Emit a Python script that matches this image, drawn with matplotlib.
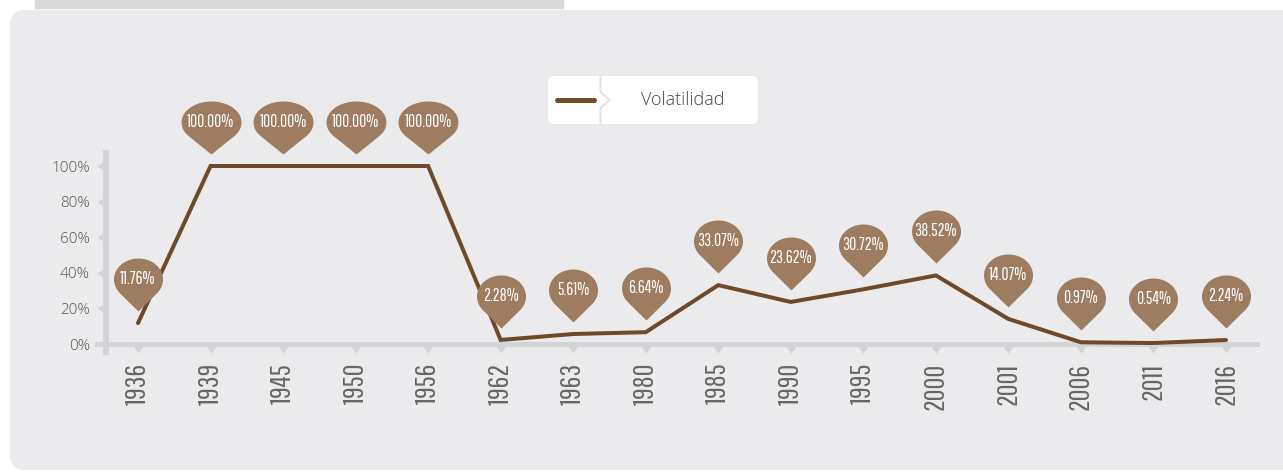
import numpy as np
import matplotlib
matplotlib.use("Agg")
import matplotlib.pyplot as plt
from matplotlib.lines import Line2D
from matplotlib.patches import FancyBboxPatch, Rectangle
from matplotlib.path import Path
from matplotlib.transforms import Affine2D

YEARS = ["1936", "1939", "1945", "1950", "1956", "1962", "1963", "1980",
         "1985", "1990", "1995", "2000", "2001", "2006", "2011", "2016"]
VOLATILITY = [11.76, 100.00, 100.00, 100.00, 100.00, 2.28, 5.61, 6.64,
              33.07, 23.62, 30.72, 38.52, 14.07, 0.97, 0.54, 2.24]
Y_TICKS = [0, 20, 40, 60, 80, 100]
SERIES_NAME = "Volatilidad"

W, H, DPI = 1283, 472, 100
PX = 72 / DPI  # points per pixel

PANEL = "#ebebed"
AXIS_GREY = "#d3d4d6"
LINE_BROWN = "#6f4a28"
PIN_BROWN = "#9d7c5f"
NARROW = ["Pathway Gothic One", "DejaVu Sans"]
OPEN = ["Open Sans", "DejaVu Sans"]


def offset_marker(verts: np.ndarray) -> tuple[Path, float]:
    """Closed marker path given in pixels around the anchor point, plus its markersize."""
    verts = np.vstack([verts, verts[:1]])
    codes = [Path.MOVETO] + [Path.LINETO] * (len(verts) - 2) + [Path.CLOSEPOLY]
    size = 2 * np.abs(verts).max() * PX
    return Path(verts, codes), size


def pin_marker(half_width: float, gap: float = 12, drop: float = 32, half_height: float = 21):
    theta0 = np.arcsin(-half_height / drop)
    t = np.linspace(theta0, np.pi - theta0, 80)
    body = np.column_stack([half_width * np.cos(t), gap + drop + half_height * np.sin(t)])
    verts = np.vstack([[0, gap], body])
    return offset_marker(verts)


fig = plt.figure(figsize=(W / DPI, H / DPI), dpi=DPI)
fig.patch.set_facecolor("white")
px = Affine2D().scale(1 / W, -1 / H).translate(0, 1) + fig.transFigure

fig.patches.append(Rectangle((35, -2), 528, 10, transform=px, color="#d9dadc", zorder=-2))
fig.patches.append(FancyBboxPatch((10, 10), 1320, 460, boxstyle="round,pad=0,rounding_size=16",
                                  transform=px, facecolor=PANEL, edgecolor="none", zorder=-2))

ax_left, ax_right, ax_top, ax_bottom = 97, 1257, 153, 352
ax = fig.add_axes([ax_left / W, 1 - ax_bottom / H, (ax_right - ax_left) / W, (ax_bottom - ax_top) / H])
ax.set_facecolor("none")

step = (1226 - 138) / 15
ax.set_xlim((ax_left - 138) / step, (ax_right - 138) / step)
ax.set_ylim((344 - ax_bottom) / 1.78, (344 - ax_top) / 1.78)

x = np.arange(len(YEARS))
ax.plot(x, VOLATILITY, color=LINE_BROWN, lw=4 * PX, solid_capstyle="round",
        solid_joinstyle="miter", zorder=3, clip_on=False)

# axis bars
spine_x = (106 - ax_left) / (ax_right - ax_left)
for side in ["top", "right"]:
    ax.spines[side].set_visible(False)
ax.spines["left"].set_position(("axes", spine_x))
ax.spines["left"].set_linewidth(6 * PX)
ax.spines["left"].set_color(AXIS_GREY)
ax.spines["bottom"].set_position(("data", 0))
ax.spines["bottom"].set_linewidth(5 * PX)
ax.spines["bottom"].set_color(AXIS_GREY)

# notch-shaped ticks
tri_down, tri_down_size = offset_marker(np.array([[-6.5, 0], [6.5, 0], [0, -9]]))
ax.plot(x, np.zeros(len(x)), ls="none", marker=tri_down, markersize=tri_down_size,
        color=AXIS_GREY, mew=0, clip_on=False, zorder=1)
tri_left, tri_left_size = offset_marker(np.array([[0, 6], [0, -6], [-9, 0]]))
ax.plot([spine_x] * len(Y_TICKS[1:]), Y_TICKS[1:], ls="none", marker=tri_left,
        markersize=tri_left_size, color=AXIS_GREY, mew=0, clip_on=False, zorder=1,
        transform=ax.get_yaxis_transform())

ax.tick_params(length=0)
ax.set_xticks(x)
ax.set_xticklabels(YEARS, rotation=90, fontfamily=NARROW, fontsize=21, color="#666666")
ax.tick_params(axis="x", pad=13.5)
ax.set_yticks(Y_TICKS)
ax.set_yticklabels([f"{v}%" for v in Y_TICKS], fontfamily=OPEN, fontweight="light",
                   fontsize=11, color="#565656")
ax.tick_params(axis="y", pad=11.5)

# value pins
for xi, value in zip(x, VOLATILITY):
    label = f"{value:.2f}%"
    pin, pin_size = pin_marker(30 if len(label) > 6 else 24.5)
    ax.plot([xi], [value], ls="none", marker=pin, markersize=pin_size, color=PIN_BROWN,
            mew=0, clip_on=False, zorder=4)
    ax.annotate(label, (xi, value), xytext=(0, 44 * PX), textcoords="offset points",
                ha="center", va="center", fontfamily=NARROW, fontsize=12.5, color="white",
                zorder=5, annotation_clip=False)

# legend
fig.patches.append(FancyBboxPatch((548, 76), 210, 48, boxstyle="round,pad=0,rounding_size=6",
                                  transform=px, facecolor="white", edgecolor="none", zorder=1))
fig.lines.append(Line2D([600.5, 600.5, 609.5, 600.5, 600.5], [76, 92, 100, 108, 124],
                        transform=px, color="#e2e2e4", lw=2 * PX, zorder=2))
fig.lines.append(Line2D([557, 594], [100, 100], transform=px, color=LINE_BROWN,
                        lw=5 * PX, solid_capstyle="round", zorder=2))
fig.text(683, 100, SERIES_NAME, transform=px, ha="center", va="center", fontfamily=OPEN,
         fontweight="light", fontsize=13, color="#454545", zorder=3)

fig.savefig("out.png", dpi=DPI)
